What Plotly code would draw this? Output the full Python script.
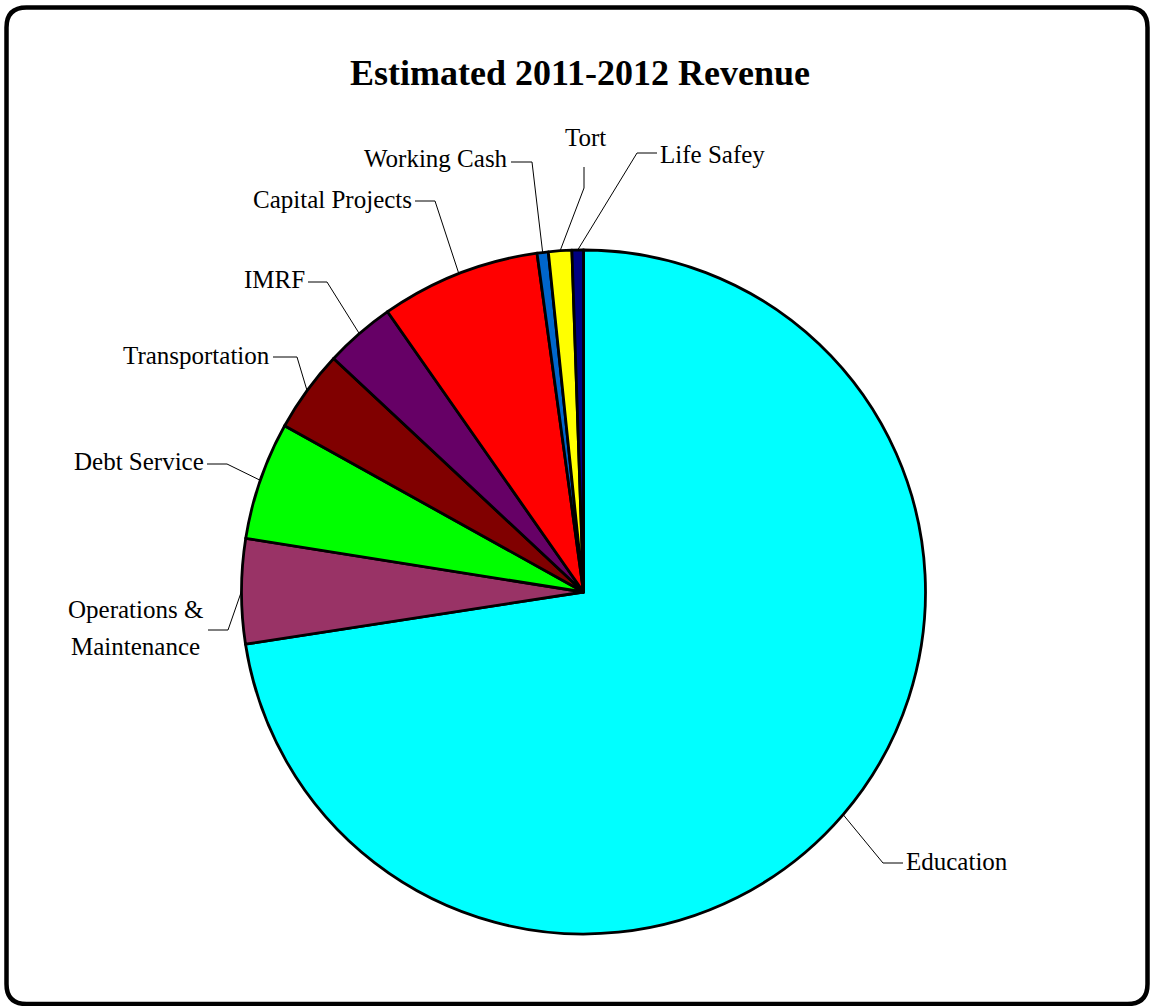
import math
import plotly.graph_objects as go

# ---- data -------------------------------------------------------------
categories = [
    "Education",
    "Operations & Maintenance",
    "Debt Service",
    "Transportation",
    "IMRF",
    "Capital Projects",
    "Working Cash",
    "Tort",
    "Life Safey",
]
revenue_share = [72.56, 4.95, 5.57, 3.88, 3.33, 7.54, 0.53, 1.10, 0.54]

# ---- styles -----------------------------------------------------------
slice_colors = [
    "#00FFFF", "#993366", "#00FF00", "#800000", "#660066",
    "#FF0000", "#0066CC", "#FFFF00", "#000080",
]
label_font = dict(family="Liberation Serif, Times New Roman, serif", size=25, color="black")
title_font = dict(family="Liberation Serif, Times New Roman, serif", size=36, color="black")

W, H = 1151, 1006
CX, CY, R = 583.5, 592.0, 342.0   # pie centre and radius in pixels


def px(x):
    return x / W


def py(y):
    return 1 - y / H


# leader-line layout (pixels): elbow, end of the horizontal run, text anchor
label_layout = {
    "Education": dict(elbow=(883, 863), end=(903, 863), text=(906, 861), anchor="left"),
    "Operations & Maintenance": dict(elbow=(228, 630), end=(208, 630), text=(135, 628), anchor="center",
                                     lines=["Operations &", "Maintenance"], gap=36.7),
    "Debt Service": dict(elbow=(227, 464), end=(207, 464), text=(204, 461), anchor="right"),
    "Transportation": dict(elbow=(297, 357), end=(273, 357), text=(270, 355), anchor="right"),
    "IMRF": dict(elbow=(327, 282), end=(308, 282), text=(305, 279), anchor="right"),
    "Capital Projects": dict(elbow=(435, 201), end=(415, 201), text=(412, 199), anchor="right"),
    "Working Cash": dict(elbow=(532, 162), end=(511, 162), text=(508, 159), anchor="right"),
    "Tort": dict(elbow=(584, 188), end=(584, 167), text=(585, 138), anchor="center"),
    "Life Safey": dict(elbow=(637, 153), end=(657, 153), text=(660, 154), anchor="left"),
}

fig = go.Figure()

fig.add_trace(go.Pie(
    labels=categories,
    values=revenue_share,
    sort=False,
    direction="clockwise",
    rotation=0,
    marker=dict(colors=slice_colors, line=dict(color="black", width=2.8)),
    textinfo="none",
    hoverinfo="label+percent",
    showlegend=False,
    domain=dict(x=[px(CX - R), px(CX + R)], y=[py(CY + R), py(CY - R)]),
))

# leader lines start on the rim at each slice's mid-angle
total = sum(revenue_share)
cum = 0.0
shapes = []
annotations = []
for name, val in zip(categories, revenue_share):
    mid = 2 * math.pi * (cum + val / 2) / total
    cum += val
    sx = CX + R * math.sin(mid)
    sy = CY - R * math.cos(mid)
    lay = label_layout[name]
    ex, ey = lay["elbow"]
    fx, fy = lay["end"]
    shapes.append(dict(
        type="path", xref="paper", yref="paper",
        path=f"M {px(sx)},{py(sy)} L {px(ex)},{py(ey)} L {px(fx)},{py(fy)}",
        line=dict(color="black", width=1),
    ))
    lines = lay.get("lines", [name])
    gap = lay.get("gap", 0)
    tx, ty = lay["text"]
    y0 = ty - gap * (len(lines) - 1) / 2
    for i, line in enumerate(lines):
        annotations.append(dict(
            x=px(tx), y=py(y0 + i * gap), xref="paper", yref="paper",
            text=line, showarrow=False, xanchor=lay["anchor"], yanchor="middle",
            font=label_font, borderpad=0, borderwidth=0,
        ))

# rounded outer frame
L, T, Rt, B, rad = 6.5, 7.5, 1147.5, 1004.0, 20.0
frame_path = (
    f"M {px(L + rad)},{py(T)} L {px(Rt - rad)},{py(T)} "
    f"Q {px(Rt)},{py(T)} {px(Rt)},{py(T + rad)} "
    f"L {px(Rt)},{py(B - rad)} Q {px(Rt)},{py(B)} {px(Rt - rad)},{py(B)} "
    f"L {px(L + rad)},{py(B)} Q {px(L)},{py(B)} {px(L)},{py(B - rad)} "
    f"L {px(L)},{py(T + rad)} Q {px(L)},{py(T)} {px(L + rad)},{py(T)} Z"
)
shapes.append(dict(type="path", xref="paper", yref="paper", path=frame_path,
                   line=dict(color="black", width=4.5)))

fig.update_layout(
    width=W, height=H,
    margin=dict(l=0, r=0, t=0, b=0),
    paper_bgcolor="white", plot_bgcolor="white",
    title=dict(text="<b>Estimated 2011-2012 Revenue</b>", x=px(580), y=py(72),
               xanchor="center", yanchor="middle", font=title_font),
    shapes=shapes,
    annotations=annotations,
)

fig.write_html("out.html")
